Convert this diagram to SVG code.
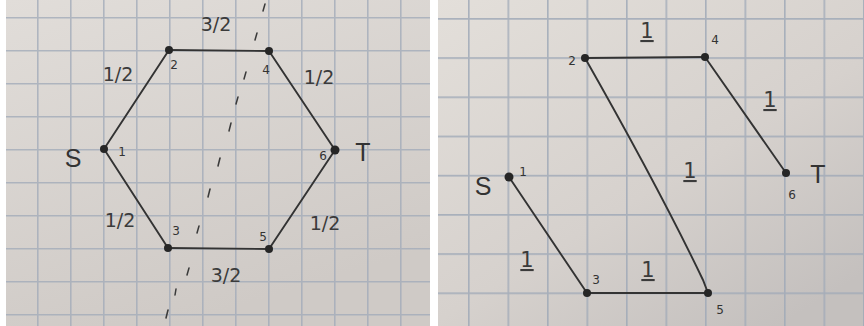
<svg xmlns="http://www.w3.org/2000/svg" width="864" height="326" viewBox="0 0 864 326">
  <defs>
    <linearGradient id="paperL" x1="0" y1="0" x2="0.4" y2="1">
      <stop offset="0" stop-color="#e1ddd9"/>
      <stop offset="1" stop-color="#cfcac6"/>
    </linearGradient>
    <linearGradient id="paperR" x1="0" y1="0" x2="0.8" y2="1">
      <stop offset="0" stop-color="#e3dfda"/>
      <stop offset="0.6" stop-color="#d6d1cd"/>
      <stop offset="1" stop-color="#c4c0be"/>
    </linearGradient>
    <pattern id="gridL" x="37" y="17" width="33" height="33" patternUnits="userSpaceOnUse">
      <path d="M0.8 0 V33 M0 0.8 H33" fill="none" stroke="#a3abb9" stroke-width="1.6" opacity="0.8"/>
    </pattern>
    <pattern id="gridR" x="468" y="18" width="39.5" height="39.2" patternUnits="userSpaceOnUse">
      <path d="M0.8 0 V39.2 M0 0.8 H39.5" fill="none" stroke="#a0a9b8" stroke-width="1.7" opacity="0.85"/>
    </pattern>
  </defs>
  <style>
    .edge { fill: none; stroke: #333; stroke-width: 1.9; stroke-linecap: round; }
    .cut { stroke: #3a3a3a; stroke-width: 1.5; stroke-linecap: round; }
    .dot { fill: #262626; }
    .w { font-family: "DejaVu Sans", "Liberation Sans", sans-serif; font-size: 19px; fill: #3b3b3b; text-anchor: middle; }
    .n { font-family: "DejaVu Sans", "Liberation Sans", sans-serif; font-size: 12px; fill: #333; text-anchor: middle; }
    .st { font-family: "Liberation Sans", "DejaVu Sans", sans-serif; font-size: 25px; fill: #333; text-anchor: middle; }
    .u { text-decoration: underline; font-size: 21px; }
  </style>

  <rect x="0" y="0" width="864" height="326" fill="#ffffff"/>
  <rect x="6" y="0" width="424" height="326" fill="url(#paperL)"/>
  <rect x="6" y="0" width="424" height="326" fill="url(#gridL)"/>
  <rect x="438" y="0" width="426" height="326" fill="url(#paperR)"/>
  <rect x="438" y="0" width="426" height="326" fill="url(#gridR)"/>

  <!-- Left graph -->
  <g id="left-edges">
    <path class="edge" d="M104 149 L169 50"/>
    <path class="edge" d="M169 50 L269 51"/>
    <path class="edge" d="M269 51 L335 150"/>
    <path class="edge" d="M104 149 L168 248"/>
    <path class="edge" d="M168 248 L269 249"/>
    <path class="edge" d="M269 249 L335 150"/>
  </g>
  <g id="left-cut">
    <line class="cut" x1="265" y1="4" x2="263" y2="11"/>
    <line class="cut" x1="257" y1="33" x2="255" y2="40"/>
    <line class="cut" x1="246" y1="72" x2="244" y2="79"/>
    <line class="cut" x1="238" y1="97" x2="236" y2="104"/>
    <line class="cut" x1="231" y1="123" x2="229" y2="131"/>
    <line class="cut" x1="220" y1="158" x2="218" y2="166"/>
    <line class="cut" x1="210" y1="189" x2="208" y2="197"/>
    <line class="cut" x1="199" y1="226" x2="197" y2="233"/>
    <line class="cut" x1="189" y1="268" x2="187" y2="275"/>
    <line class="cut" x1="176" y1="289" x2="175" y2="295"/>
    <line class="cut" x1="168" y1="310" x2="166" y2="318"/>
  </g>
  <g id="L1"><circle class="dot" cx="104" cy="149" r="4"/><text class="n" x="122" y="156">1</text><text class="st" x="73" y="167">S</text></g>
  <g id="L2"><circle class="dot" cx="169" cy="50" r="4"/><text class="n" x="174" y="69">2</text></g>
  <g id="L3"><circle class="dot" cx="168" cy="248" r="4"/><text class="n" x="176" y="235">3</text></g>
  <g id="L4"><circle class="dot" cx="269" cy="51" r="4"/><text class="n" x="266" y="74">4</text></g>
  <g id="L5"><circle class="dot" cx="269" cy="249" r="4"/><text class="n" x="263" y="241">5</text></g>
  <g id="L6"><circle class="dot" cx="335" cy="150" r="4.5"/><text class="n" x="323" y="160">6</text><text class="st" x="363" y="161">T</text></g>
  <g id="left-labels">
    <text class="w" x="216" y="31">3/2</text>
    <text class="w" x="118" y="81">1/2</text>
    <text class="w" x="319" y="84">1/2</text>
    <text class="w" x="120" y="227">1/2</text>
    <text class="w" x="325" y="230">1/2</text>
    <text class="w" x="226" y="282">3/2</text>
  </g>

  <!-- Right graph -->
  <g id="right-edges">
    <path class="edge" d="M585 58 L705 57"/>
    <path class="edge" d="M705 57 L786 173"/>
    <path class="edge" d="M585 58 Q660 190 703 280 L708 293"/>
    <path class="edge" d="M509 177 L587 293"/>
    <path class="edge" d="M587 293 L708 293"/>
  </g>
  <g id="R1"><circle class="dot" cx="509" cy="177" r="4.5"/><text class="n" x="523" y="176">1</text><text class="st" x="483" y="195">S</text></g>
  <g id="R2"><circle class="dot" cx="585" cy="58" r="4"/><text class="n" x="572" y="65">2</text></g>
  <g id="R3"><circle class="dot" cx="587" cy="293" r="4"/><text class="n" x="596" y="284">3</text></g>
  <g id="R4"><circle class="dot" cx="705" cy="57" r="4"/><text class="n" x="715" y="44">4</text></g>
  <g id="R5"><circle class="dot" cx="708" cy="293" r="4"/><text class="n" x="720" y="314">5</text></g>
  <g id="R6"><circle class="dot" cx="786" cy="173" r="4"/><text class="n" x="792" y="199">6</text><text class="st" x="818" y="183">T</text></g>
  <g id="right-labels">
    <text class="w u" x="647" y="38">1</text>
    <text class="w u" x="770" y="107">1</text>
    <text class="w u" x="690" y="178">1</text>
    <text class="w u" x="527" y="267">1</text>
    <text class="w u" x="648" y="277">1</text>
  </g>
</svg>
